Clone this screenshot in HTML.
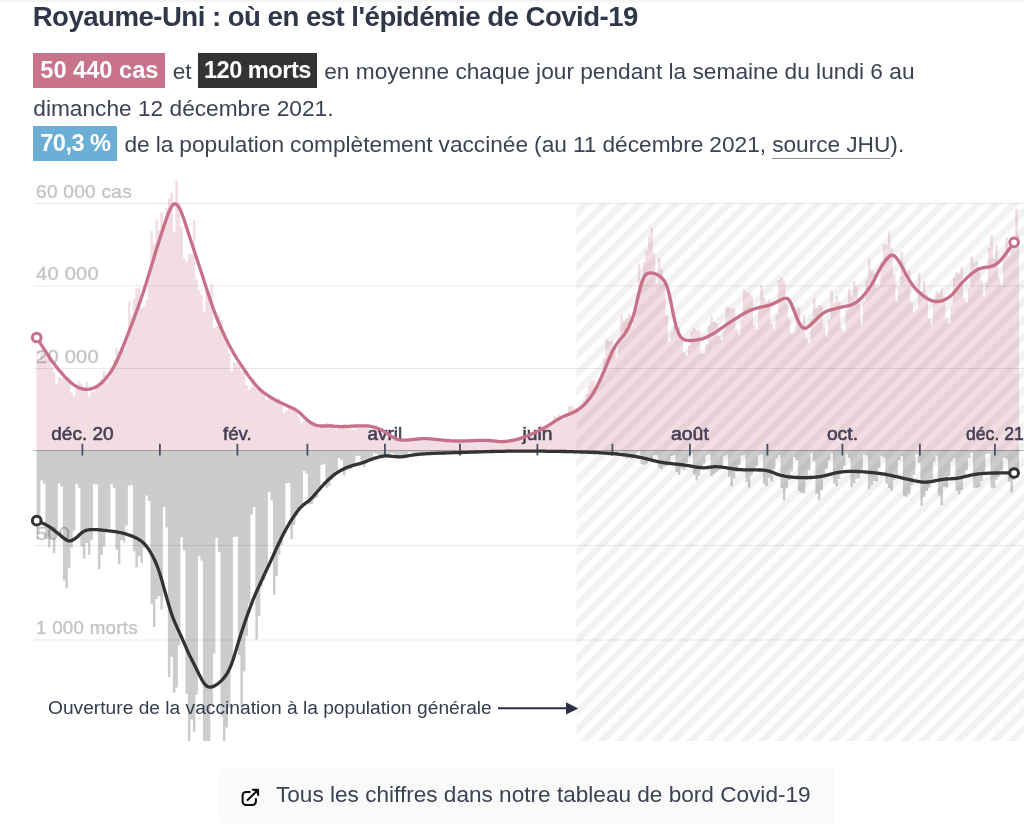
<!DOCTYPE html>
<html lang="fr"><head><meta charset="utf-8"><title>Royaume-Uni : Covid-19</title>
<style>
html,body{margin:0;padding:0;background:#fff;}
body{width:1024px;height:837px;overflow:hidden;position:relative;font-family:"Liberation Sans",sans-serif;color:#3a4254;}
.topshade{position:absolute;left:0;top:0;width:1024px;height:4px;background:linear-gradient(#f2f2f2,#fff);}
h1{position:absolute;left:32.7px;top:0px;margin:0;font-size:27.6px;line-height:34px;font-weight:bold;color:#30374a;white-space:nowrap;letter-spacing:-0.52px;}
.txt{position:absolute;left:33.3px;top:53.1px;width:960px;font-size:22.7px;line-height:36.4px;color:#3a4254;}
.b{display:inline-block;color:#fff;font-weight:bold;font-size:23.6px;line-height:34px;height:34.6px;padding:0 7px;margin-right:1px;vertical-align:top;}
.b.c{background:#c8728b;}
.b.d{background:#333;letter-spacing:-0.5px;padding:0 6px;}
.b.v{background:#6baed6;letter-spacing:-0.55px;}
.u{border-bottom:1px solid #8a8f9a;padding-bottom:1px;}
.l1{word-spacing:0px;}
.l3{word-spacing:-0.3px;}
.chart{position:absolute;left:0;top:170px;}
.chart text{font-family:"Liberation Sans",sans-serif;}
.btn{position:absolute;left:219.3px;top:767.3px;width:615.5px;height:57.5px;background:#fafafa;border-radius:3px;}
.btn span{position:absolute;left:56.7px;top:0;line-height:56px;font-size:22.6px;color:#3a4254;white-space:nowrap;}
.btn svg{position:absolute;left:11px;top:12.7px;}
</style></head><body>
<div class="topshade"></div>
<h1>Royaume-Uni : où en est l'épidémie de Covid-19</h1>
<div class="txt"><span class="b c">50 440 cas</span> et <span class="b d">120 morts</span><span class="l1"> en moyenne chaque jour pendant la semaine du lundi 6 au</span> dimanche 12 décembre 2021.<br><span class="b v">70,3 %</span><span class="l3"> de la population complètement vaccinée (au 11 décembre 2021, <span class="u">source JHU</span>).</span></div>
<svg class="chart" width="1024" height="600" viewBox="0 170 1024 600">
<defs><pattern id="hatch" width="12.6" height="12.6" patternUnits="userSpaceOnUse" patternTransform="translate(576.5 203.5) rotate(-45)"><rect x="0" y="4.0" width="12.6" height="6.4" fill="#000" fill-opacity="0.05"/></pattern><clipPath id="clip"><rect x="36.5" y="170" width="982.6" height="571"/></clipPath></defs>
<path d="M35.40,450.5 L35.40,350.8 L37.90,350.8 L37.90,362.1 L40.40,362.1 L40.40,351.0 L42.90,351.0 L42.90,356.2 L45.40,356.2 L45.40,349.8 L47.90,349.8 L47.90,357.2 L50.40,357.2 L50.40,366.8 L52.90,366.8 L52.90,372.0 L55.40,372.0 L55.40,384.3 L57.90,384.3 L57.90,377.0 L60.40,377.0 L60.40,378.3 L62.90,378.3 L62.90,378.6 L65.40,378.6 L65.40,377.7 L67.90,377.7 L67.90,376.8 L70.40,376.8 L70.40,392.7 L72.90,392.7 L72.90,396.2 L75.40,396.2 L75.40,389.1 L77.90,389.1 L77.90,381.6 L80.40,381.6 L80.40,384.1 L82.90,384.1 L82.90,386.7 L85.40,386.7 L85.40,381.8 L87.90,381.8 L87.90,396.6 L90.40,396.6 L90.40,391.5 L92.90,391.5 L92.90,391.2 L95.40,391.2 L95.40,386.1 L97.90,386.1 L97.90,382.5 L100.40,382.5 L100.40,378.4 L102.90,378.4 L102.90,370.7 L105.40,370.7 L105.40,382.4 L107.90,382.4 L107.90,378.3 L110.40,378.3 L110.40,367.7 L112.90,367.7 L112.90,359.7 L115.40,359.7 L115.40,348.5 L117.90,348.5 L117.90,351.4 L120.40,351.4 L120.40,347.3 L122.90,347.3 L122.90,349.1 L125.40,349.1 L125.40,341.0 L127.90,341.0 L127.90,301.6 L130.40,301.6 L130.40,316.7 L132.90,316.7 L132.90,298.2 L135.40,298.2 L135.40,288.3 L137.90,288.3 L137.90,288.3 L140.40,288.3 L140.40,308.2 L142.90,308.2 L142.90,306.5 L145.40,306.5 L145.40,300.0 L147.90,300.0 L147.90,278.3 L150.40,278.3 L150.40,231.0 L152.90,231.0 L152.90,243.4 L155.40,243.4 L155.40,219.3 L157.90,219.3 L157.90,230.1 L160.40,230.1 L160.40,211.9 L162.90,211.9 L162.90,225.2 L165.40,225.2 L165.40,207.7 L167.90,207.7 L167.90,198.6 L170.40,198.6 L170.40,192.8 L172.90,192.8 L172.90,232.6 L175.40,232.6 L175.40,180.3 L177.90,180.3 L177.90,202.7 L180.40,202.7 L180.40,226.8 L182.90,226.8 L182.90,258.4 L185.40,258.4 L185.40,261.7 L187.90,261.7 L187.90,254.2 L190.40,254.2 L190.40,254.2 L192.90,254.2 L192.90,220.2 L195.40,220.2 L195.40,280.0 L197.90,280.0 L197.90,290.8 L200.40,290.8 L200.40,294.9 L202.90,294.9 L202.90,312.0 L205.40,312.0 L205.40,288.0 L207.90,288.0 L207.90,294.1 L210.40,294.1 L210.40,284.6 L212.90,284.6 L212.90,328.4 L215.40,328.4 L215.40,325.9 L217.90,325.9 L217.90,314.7 L220.40,314.7 L220.40,320.4 L222.90,320.4 L222.90,337.5 L225.40,337.5 L225.40,342.8 L227.90,342.8 L227.90,353.2 L230.40,353.2 L230.40,371.2 L232.90,371.2 L232.90,362.4 L235.40,362.4 L235.40,363.4 L237.90,363.4 L237.90,365.5 L240.40,365.5 L240.40,370.7 L242.90,370.7 L242.90,366.6 L245.40,366.6 L245.40,385.2 L247.90,385.2 L247.90,390.3 L250.40,390.3 L250.40,387.0 L252.90,387.0 L252.90,379.5 L255.40,379.5 L255.40,388.8 L257.90,388.8 L257.90,387.8 L260.40,387.8 L260.40,390.1 L262.90,390.1 L262.90,394.8 L265.40,394.8 L265.40,399.8 L267.90,399.8 L267.90,397.0 L270.40,397.0 L270.40,399.1 L272.90,399.1 L272.90,397.9 L275.40,397.9 L275.40,400.2 L277.90,400.2 L277.90,398.2 L280.40,398.2 L280.40,403.9 L282.90,403.9 L282.90,412.7 L285.40,412.7 L285.40,410.6 L287.90,410.6 L287.90,407.9 L290.40,407.9 L290.40,407.9 L292.90,407.9 L292.90,408.1 L295.40,408.1 L295.40,410.2 L297.90,410.2 L297.90,418.1 L300.40,418.1 L300.40,423.2 L302.90,423.2 L302.90,421.1 L305.40,421.1 L305.40,421.0 L307.90,421.0 L307.90,421.0 L310.40,421.0 L310.40,421.0 L312.90,421.0 L312.90,423.6 L315.40,423.6 L315.40,427.3 L317.90,427.3 L317.90,428.3 L320.40,428.3 L320.40,426.3 L322.90,426.3 L322.90,426.8 L325.40,426.8 L325.40,422.5 L327.90,422.5 L327.90,423.4 L330.40,423.4 L330.40,423.7 L332.90,423.7 L332.90,426.8 L335.40,426.8 L335.40,429.5 L337.90,429.5 L337.90,427.9 L340.40,427.9 L340.40,427.2 L342.90,427.2 L342.90,424.2 L345.40,424.2 L345.40,426.7 L347.90,426.7 L347.90,427.0 L350.40,427.0 L350.40,428.6 L352.90,428.6 L352.90,429.8 L355.40,429.8 L355.40,427.4 L357.90,427.4 L357.90,426.6 L360.40,426.6 L360.40,426.2 L362.90,426.2 L362.90,425.9 L365.40,425.9 L365.40,426.8 L367.90,426.8 L367.90,428.5 L370.40,428.5 L370.40,431.3 L372.90,431.3 L372.90,427.6 L375.40,427.6 L375.40,427.7 L377.90,427.7 L377.90,429.9 L380.40,429.9 L380.40,431.1 L382.90,431.1 L382.90,432.8 L385.40,432.8 L385.40,436.1 L387.90,436.1 L387.90,438.7 L390.40,438.7 L390.40,437.7 L392.90,437.7 L392.90,437.5 L395.40,437.5 L395.40,439.0 L397.90,439.0 L397.90,439.4 L400.40,439.4 L400.40,440.5 L402.90,440.5 L402.90,441.3 L405.40,441.3 L405.40,441.3 L407.90,441.3 L407.90,440.5 L410.40,440.5 L410.40,438.3 L412.90,438.3 L412.90,438.9 L415.40,438.9 L415.40,439.1 L417.90,439.1 L417.90,437.3 L420.40,437.3 L420.40,439.3 L422.90,439.3 L422.90,440.6 L425.40,440.6 L425.40,439.2 L427.90,439.2 L427.90,439.4 L430.40,439.4 L430.40,438.4 L432.90,438.4 L432.90,437.9 L435.40,437.9 L435.40,438.6 L437.90,438.6 L437.90,440.3 L440.40,440.3 L440.40,441.7 L442.90,441.7 L442.90,441.1 L445.40,441.1 L445.40,440.8 L447.90,440.8 L447.90,439.7 L450.40,439.7 L450.40,440.3 L452.90,440.3 L452.90,440.2 L455.40,440.2 L455.40,441.8 L457.90,441.8 L457.90,442.4 L460.40,442.4 L460.40,440.9 L462.90,440.9 L462.90,439.7 L465.40,439.7 L465.40,439.5 L467.90,439.5 L467.90,439.6 L470.40,439.6 L470.40,439.7 L472.90,439.7 L472.90,440.7 L475.40,440.7 L475.40,441.9 L477.90,441.9 L477.90,440.7 L480.40,440.7 L480.40,440.2 L482.90,440.2 L482.90,440.5 L485.40,440.5 L485.40,440.7 L487.90,440.7 L487.90,440.7 L490.40,440.7 L490.40,441.9 L492.90,441.9 L492.90,442.1 L495.40,442.1 L495.40,441.3 L497.90,441.3 L497.90,441.3 L500.40,441.3 L500.40,440.2 L502.90,440.2 L502.90,440.0 L505.40,440.0 L505.40,439.9 L507.90,439.9 L507.90,441.4 L510.40,441.4 L510.40,441.6 L512.90,441.6 L512.90,440.3 L515.40,440.3 L515.40,438.8 L517.90,438.8 L517.90,437.7 L520.40,437.7 L520.40,436.0 L522.90,436.0 L522.90,434.6 L525.40,434.6 L525.40,435.2 L527.90,435.2 L527.90,435.9 L530.40,435.9 L530.40,433.2 L532.90,433.2 L532.90,430.1 L535.40,430.1 L535.40,430.6 L537.90,430.6 L537.90,427.5 L540.40,427.5 L540.40,425.5 L542.90,425.5 L542.90,427.0 L545.40,427.0 L545.40,426.9 L547.90,426.9 L547.90,424.5 L550.40,424.5 L550.40,422.1 L552.90,422.1 L552.90,416.5 L555.40,416.5 L555.40,417.6 L557.90,417.6 L557.90,414.3 L560.40,414.3 L560.40,417.3 L562.90,417.3 L562.90,420.7 L565.40,420.7 L565.40,415.8 L567.90,415.8 L567.90,406.4 L570.40,406.4 L570.40,406.1 L572.90,406.1 L572.90,408.5 L575.40,408.5 L575.40,408.1 L577.90,408.1 L577.90,411.8 L580.40,411.8 L580.40,408.7 L582.90,408.7 L582.90,400.9 L585.40,400.9 L585.40,394.1 L587.90,394.1 L587.90,385.1 L590.40,385.1 L590.40,380.9 L592.90,380.9 L592.90,380.1 L595.40,380.1 L595.40,387.1 L597.90,387.1 L597.90,385.2 L600.40,385.2 L600.40,375.0 L602.90,375.0 L602.90,357.9 L605.40,357.9 L605.40,339.6 L607.90,339.6 L607.90,340.9 L610.40,340.9 L610.40,341.0 L612.90,341.0 L612.90,347.7 L615.40,347.7 L615.40,357.5 L617.90,357.5 L617.90,336.8 L620.40,336.8 L620.40,315.6 L622.90,315.6 L622.90,320.4 L625.40,320.4 L625.40,317.7 L627.90,317.7 L627.90,314.2 L630.40,314.2 L630.40,325.4 L632.90,325.4 L632.90,319.6 L635.40,319.6 L635.40,299.3 L637.90,299.3 L637.90,263.7 L640.40,263.7 L640.40,280.0 L642.90,280.0 L642.90,262.0 L645.40,262.0 L645.40,250.0 L647.90,250.0 L647.90,236.5 L650.40,236.5 L650.40,228.0 L652.90,228.0 L652.90,253.0 L655.40,253.0 L655.40,283.0 L657.90,283.0 L657.90,258.0 L660.40,258.0 L660.40,269.0 L662.90,269.0 L662.90,283.2 L665.40,283.2 L665.40,315.5 L667.90,315.5 L667.90,342.1 L670.40,342.1 L670.40,331.7 L672.90,331.7 L672.90,325.3 L675.40,325.3 L675.40,332.9 L677.90,332.9 L677.90,326.9 L680.40,326.9 L680.40,340.2 L682.90,340.2 L682.90,351.8 L685.40,351.8 L685.40,355.6 L687.90,355.6 L687.90,345.2 L690.40,345.2 L690.40,331.6 L692.90,331.6 L692.90,328.4 L695.40,328.4 L695.40,330.6 L697.90,330.6 L697.90,330.0 L700.40,330.0 L700.40,353.6 L702.90,353.6 L702.90,353.9 L705.40,353.9 L705.40,344.2 L707.90,344.2 L707.90,325.5 L710.40,325.5 L710.40,316.1 L712.90,316.1 L712.90,322.0 L715.40,322.0 L715.40,322.9 L717.90,322.9 L717.90,335.9 L720.40,335.9 L720.40,340.1 L722.90,340.1 L722.90,330.7 L725.40,330.7 L725.40,307.1 L727.90,307.1 L727.90,307.1 L730.40,307.1 L730.40,309.2 L732.90,309.2 L732.90,308.5 L735.40,308.5 L735.40,329.6 L737.90,329.6 L737.90,335.3 L740.40,335.3 L740.40,319.8 L742.90,319.8 L742.90,289.3 L745.40,289.3 L745.40,292.6 L747.90,292.6 L747.90,292.7 L750.40,292.7 L750.40,295.0 L752.90,295.0 L752.90,325.7 L755.40,325.7 L755.40,329.2 L757.90,329.2 L757.90,306.5 L760.40,306.5 L760.40,285.2 L762.90,285.2 L762.90,298.1 L765.40,298.1 L765.40,301.7 L767.90,301.7 L767.90,298.9 L770.40,298.9 L770.40,324.1 L772.90,324.1 L772.90,329.0 L775.40,329.0 L775.40,314.8 L777.90,314.8 L777.90,280.3 L780.40,280.3 L780.40,277.4 L782.90,277.4 L782.90,280.8 L785.40,280.8 L785.40,303.2 L787.90,303.2 L787.90,319.3 L790.40,319.3 L790.40,334.3 L792.90,334.3 L792.90,332.5 L795.40,332.5 L795.40,306.5 L797.90,306.5 L797.90,308.1 L800.40,308.1 L800.40,324.2 L802.90,324.2 L802.90,315.0 L805.40,315.0 L805.40,338.7 L807.90,338.7 L807.90,343.0 L810.40,343.0 L810.40,319.1 L812.90,319.1 L812.90,298.2 L815.40,298.2 L815.40,307.7 L817.90,307.7 L817.90,304.9 L820.40,304.9 L820.40,305.9 L822.90,305.9 L822.90,327.1 L825.40,327.1 L825.40,336.7 L827.90,336.7 L827.90,319.3 L830.40,319.3 L830.40,290.3 L832.90,290.3 L832.90,302.8 L835.40,302.8 L835.40,296.3 L837.90,296.3 L837.90,302.1 L840.40,302.1 L840.40,328.2 L842.90,328.2 L842.90,331.3 L845.40,331.3 L845.40,310.2 L847.90,310.2 L847.90,289.1 L850.40,289.1 L850.40,296.4 L852.90,296.4 L852.90,281.1 L855.40,281.1 L855.40,287.1 L857.90,287.1 L857.90,303.5 L860.40,303.5 L860.40,324.4 L862.90,324.4 L862.90,301.9 L865.40,301.9 L865.40,279.5 L867.90,279.5 L867.90,258.8 L870.40,258.8 L870.40,270.1 L872.90,270.1 L872.90,273.3 L875.40,273.3 L875.40,287.5 L877.90,287.5 L877.90,285.9 L880.40,285.9 L880.40,262.8 L882.90,262.8 L882.90,244.2 L885.40,244.2 L885.40,245.0 L887.90,245.0 L887.90,231.2 L890.40,231.2 L890.40,247.7 L892.90,247.7 L892.90,275.2 L895.40,275.2 L895.40,301.7 L897.90,301.7 L897.90,287.1 L900.40,287.1 L900.40,251.6 L902.90,251.6 L902.90,262.7 L905.40,262.7 L905.40,279.7 L907.90,279.7 L907.90,270.1 L910.40,270.1 L910.40,302.6 L912.90,302.6 L912.90,312.1 L915.40,312.1 L915.40,309.0 L917.90,309.0 L917.90,272.9 L920.40,272.9 L920.40,290.9 L922.90,290.9 L922.90,281.3 L925.40,281.3 L925.40,295.0 L927.90,295.0 L927.90,318.6 L930.40,318.6 L930.40,324.5 L932.90,324.5 L932.90,301.7 L935.40,301.7 L935.40,290.8 L937.90,290.8 L937.90,292.7 L940.40,292.7 L940.40,288.2 L942.90,288.2 L942.90,296.7 L945.40,296.7 L945.40,317.9 L947.90,317.9 L947.90,323.9 L950.40,323.9 L950.40,306.7 L952.90,306.7 L952.90,277.5 L955.40,277.5 L955.40,271.9 L957.90,271.9 L957.90,274.0 L960.40,274.0 L960.40,266.7 L962.90,266.7 L962.90,298.1 L965.40,298.1 L965.40,302.7 L967.90,302.7 L967.90,287.9 L970.40,287.9 L970.40,256.4 L972.90,256.4 L972.90,262.7 L975.40,262.7 L975.40,261.4 L977.90,261.4 L977.90,271.5 L980.40,271.5 L980.40,281.1 L982.90,281.1 L982.90,295.4 L985.40,295.4 L985.40,282.2 L987.90,282.2 L987.90,247.8 L990.40,247.8 L990.40,235.1 L992.90,235.1 L992.90,258.9 L995.40,258.9 L995.40,244.9 L997.90,244.9 L997.90,278.0 L1000.40,278.0 L1000.40,285.5 L1002.90,285.5 L1002.90,253.0 L1005.40,253.0 L1005.40,237.0 L1007.90,237.0 L1007.90,256.0 L1010.40,256.0 L1010.40,246.0 L1012.90,246.0 L1012.90,240.0 L1015.40,240.0 L1015.40,209.0 L1017.90,209.0 L1017.90,234.5 L1020.40,234.5 L1020.40,450.5 Z" fill="#f2dde2" clip-path="url(#clip)"/>
<path d="M35.40,450.5 L35.40,538.9 L37.90,538.9 L37.90,525.7 L40.40,525.7 L40.40,480.6 L42.90,480.6 L42.90,483.5 L45.40,483.5 L45.40,538.8 L47.90,538.8 L47.90,547.3 L50.40,547.3 L50.40,538.7 L52.90,538.7 L52.90,553.2 L55.40,553.2 L55.40,528.9 L57.90,528.9 L57.90,483.3 L60.40,483.3 L60.40,486.4 L62.90,486.4 L62.90,580.4 L65.40,580.4 L65.40,588.3 L67.90,588.3 L67.90,568.1 L70.40,568.1 L70.40,547.6 L72.90,547.6 L72.90,530.7 L75.40,530.7 L75.40,483.8 L77.90,483.8 L77.90,487.8 L80.40,487.8 L80.40,546.5 L82.90,546.5 L82.90,558.7 L85.40,558.7 L85.40,543.0 L87.90,543.0 L87.90,555.0 L90.40,555.0 L90.40,540.1 L92.90,540.1 L92.90,484.2 L95.40,484.2 L95.40,484.4 L97.90,484.4 L97.90,569.3 L100.40,569.3 L100.40,554.8 L102.90,554.8 L102.90,546.6 L105.40,546.6 L105.40,531.5 L107.90,531.5 L107.90,528.6 L110.40,528.6 L110.40,484.3 L112.90,484.3 L112.90,488.0 L115.40,488.0 L115.40,549.6 L117.90,549.6 L117.90,564.5 L120.40,564.5 L120.40,540.0 L122.90,540.0 L122.90,542.2 L125.40,542.2 L125.40,525.5 L127.90,525.5 L127.90,485.5 L130.40,485.5 L130.40,485.3 L132.90,485.3 L132.90,551.2 L135.40,551.2 L135.40,567.3 L137.90,567.3 L137.90,556.1 L140.40,556.1 L140.40,562.7 L142.90,562.7 L142.90,547.9 L145.40,547.9 L145.40,495.6 L147.90,495.6 L147.90,500.8 L150.40,500.8 L150.40,604.1 L152.90,604.1 L152.90,626.9 L155.40,626.9 L155.40,599.0 L157.90,599.0 L157.90,596.2 L160.40,596.2 L160.40,609.4 L162.90,609.4 L162.90,506.9 L165.40,506.9 L165.40,527.4 L167.90,527.4 L167.90,677.0 L170.40,677.0 L170.40,656.9 L172.90,656.9 L172.90,692.7 L175.40,692.7 L175.40,687.5 L177.90,687.5 L177.90,645.2 L180.40,645.2 L180.40,537.2 L182.90,537.2 L182.90,550.3 L185.40,550.3 L185.40,693.7 L187.90,693.7 L187.90,742.2 L190.40,742.2 L190.40,719.4 L192.90,719.4 L192.90,731.9 L195.40,731.9 L195.40,694.7 L197.90,694.7 L197.90,555.8 L200.40,555.8 L200.40,560.4 L202.90,560.4 L202.90,795.9 L205.40,795.9 L205.40,793.7 L207.90,793.7 L207.90,761.9 L210.40,761.9 L210.40,705.0 L212.90,705.0 L212.90,653.5 L215.40,653.5 L215.40,537.8 L217.90,537.8 L217.90,551.9 L220.40,551.9 L220.40,716.4 L222.90,716.4 L222.90,786.9 L225.40,786.9 L225.40,727.5 L227.90,727.5 L227.90,707.2 L230.40,707.2 L230.40,662.0 L232.90,662.0 L232.90,537.0 L235.40,537.0 L235.40,536.5 L237.90,536.5 L237.90,654.9 L240.40,654.9 L240.40,708.3 L242.90,708.3 L242.90,671.5 L245.40,671.5 L245.40,635.9 L247.90,635.9 L247.90,603.6 L250.40,603.6 L250.40,514.3 L252.90,514.3 L252.90,507.0 L255.40,507.0 L255.40,639.5 L257.90,639.5 L257.90,616.0 L260.40,616.0 L260.40,586.5 L262.90,586.5 L262.90,579.7 L265.40,579.7 L265.40,570.6 L267.90,570.6 L267.90,491.9 L270.40,491.9 L270.40,500.5 L272.90,500.5 L272.90,594.8 L275.40,594.8 L275.40,576.2 L277.90,576.2 L277.90,554.7 L280.40,554.7 L280.40,545.0 L282.90,545.0 L282.90,531.1 L285.40,531.1 L285.40,483.2 L287.90,483.2 L287.90,483.0 L290.40,483.0 L290.40,539.3 L292.90,539.3 L292.90,524.9 L295.40,524.9 L295.40,515.8 L297.90,515.8 L297.90,510.9 L300.40,510.9 L300.40,507.6 L302.90,507.6 L302.90,471.0 L305.40,471.0 L305.40,473.7 L307.90,473.7 L307.90,504.2 L310.40,504.2 L310.40,504.1 L312.90,504.1 L312.90,498.9 L315.40,498.9 L315.40,497.7 L317.90,497.7 L317.90,488.1 L320.40,488.1 L320.40,465.0 L322.90,465.0 L322.90,463.7 L325.40,463.7 L325.40,487.7 L327.90,487.7 L327.90,485.9 L330.40,485.9 L330.40,480.1 L332.90,480.1 L332.90,473.7 L335.40,473.7 L335.40,473.4 L337.90,473.4 L337.90,457.9 L340.40,457.9 L340.40,459.9 L342.90,459.9 L342.90,475.6 L345.40,475.6 L345.40,469.5 L347.90,469.5 L347.90,469.2 L350.40,469.2 L350.40,468.9 L352.90,468.9 L352.90,466.1 L355.40,466.1 L355.40,455.9 L357.90,455.9 L357.90,455.8 L360.40,455.8 L360.40,464.5 L362.90,464.5 L362.90,466.9 L365.40,466.9 L365.40,461.5 L367.90,461.5 L367.90,460.7 L370.40,460.7 L370.40,457.4 L372.90,457.4 L372.90,453.4 L375.40,453.4 L375.40,453.7 L377.90,453.7 L377.90,457.3 L380.40,457.3 L380.40,458.7 L382.90,458.7 L382.90,457.3 L385.40,457.3 L385.40,457.7 L387.90,457.7 L387.90,456.6 L390.40,456.6 L390.40,452.8 L392.90,452.8 L392.90,453.7 L395.40,453.7 L395.40,458.8 L397.90,458.8 L397.90,457.9 L400.40,457.9 L400.40,456.9 L402.90,456.9 L402.90,456.9 L405.40,456.9 L405.40,455.5 L407.90,455.5 L407.90,452.3 L410.40,452.3 L410.40,452.3 L412.90,452.3 L412.90,455.5 L415.40,455.5 L415.40,455.4 L417.90,455.4 L417.90,455.3 L420.40,455.3 L420.40,453.9 L422.90,453.9 L422.90,453.9 L425.40,453.9 L425.40,451.9 L427.90,451.9 L427.90,451.7 L430.40,451.7 L430.40,454.6 L432.90,454.6 L432.90,454.5 L435.40,454.5 L435.40,454.1 L437.90,454.1 L437.90,453.3 L440.40,453.3 L440.40,452.9 L442.90,452.9 L442.90,451.5 L445.40,451.5 L445.40,451.7 L447.90,451.7 L447.90,453.5 L450.40,453.5 L450.40,453.4 L452.90,453.4 L452.90,453.1 L455.40,453.1 L455.40,452.7 L457.90,452.7 L457.90,452.2 L460.40,452.2 L460.40,451.2 L462.90,451.2 L462.90,451.4 L465.40,451.4 L465.40,452.6 L467.90,452.6 L467.90,453.0 L470.40,453.0 L470.40,452.3 L472.90,452.3 L472.90,452.1 L475.40,452.1 L475.40,451.9 L477.90,451.9 L477.90,451.0 L480.40,451.0 L480.40,451.0 L482.90,451.0 L482.90,452.2 L485.40,452.2 L485.40,452.1 L487.90,452.1 L487.90,451.9 L490.40,451.9 L490.40,451.6 L492.90,451.6 L492.90,451.5 L495.40,451.5 L495.40,450.9 L497.90,450.9 L497.90,450.9 L500.40,450.9 L500.40,451.6 L502.90,451.6 L502.90,451.4 L505.40,451.4 L505.40,451.4 L507.90,451.4 L507.90,451.3 L510.40,451.3 L510.40,451.2 L512.90,451.2 L512.90,450.8 L515.40,450.8 L515.40,450.8 L517.90,450.8 L517.90,451.2 L520.40,451.2 L520.40,451.5 L522.90,451.5 L522.90,451.2 L525.40,451.2 L525.40,451.3 L527.90,451.3 L527.90,451.1 L530.40,451.1 L530.40,450.8 L532.90,450.8 L532.90,450.8 L535.40,450.8 L535.40,451.6 L537.90,451.6 L537.90,451.4 L540.40,451.4 L540.40,451.5 L542.90,451.5 L542.90,451.4 L545.40,451.4 L545.40,451.3 L547.90,451.3 L547.90,450.8 L550.40,450.8 L550.40,450.9 L552.90,450.9 L552.90,451.6 L555.40,451.6 L555.40,451.7 L557.90,451.7 L557.90,451.9 L560.40,451.9 L560.40,451.7 L562.90,451.7 L562.90,451.5 L565.40,451.5 L565.40,451.0 L567.90,451.0 L567.90,451.1 L570.40,451.1 L570.40,452.2 L572.90,452.2 L572.90,452.2 L575.40,452.2 L575.40,452.2 L577.90,452.2 L577.90,452.1 L580.40,452.1 L580.40,452.1 L582.90,452.1 L582.90,451.1 L585.40,451.1 L585.40,451.3 L587.90,451.3 L587.90,452.9 L590.40,452.9 L590.40,453.4 L592.90,453.4 L592.90,453.5 L595.40,453.5 L595.40,453.4 L597.90,453.4 L597.90,452.9 L600.40,452.9 L600.40,451.1 L602.90,451.1 L602.90,451.1 L605.40,451.1 L605.40,454.4 L607.90,454.4 L607.90,455.4 L610.40,455.4 L610.40,455.7 L612.90,455.7 L612.90,454.3 L615.40,454.3 L615.40,453.7 L617.90,453.7 L617.90,451.8 L620.40,451.8 L620.40,451.2 L622.90,451.2 L622.90,457.3 L625.40,457.3 L625.40,458.9 L627.90,458.9 L627.90,458.0 L630.40,458.0 L630.40,458.4 L632.90,458.4 L632.90,456.4 L635.40,456.4 L635.40,452.6 L637.90,452.6 L637.90,451.3 L640.40,451.3 L640.40,464.1 L642.90,464.1 L642.90,464.9 L645.40,464.9 L645.40,463.6 L647.90,463.6 L647.90,460.6 L650.40,460.6 L650.40,459.1 L652.90,459.1 L652.90,455.0 L655.40,455.0 L655.40,455.2 L657.90,455.2 L657.90,467.7 L660.40,467.7 L660.40,469.2 L662.90,469.2 L662.90,466.5 L665.40,466.5 L665.40,466.1 L667.90,466.1 L667.90,462.3 L670.40,462.3 L670.40,456.0 L672.90,456.0 L672.90,454.8 L675.40,454.8 L675.40,471.9 L677.90,471.9 L677.90,475.1 L680.40,475.1 L680.40,468.3 L682.90,468.3 L682.90,469.9 L685.40,469.9 L685.40,462.6 L687.90,462.6 L687.90,456.7 L690.40,456.7 L690.40,453.3 L692.90,453.3 L692.90,474.6 L695.40,474.6 L695.40,480.5 L697.90,480.5 L697.90,476.0 L700.40,476.0 L700.40,469.0 L702.90,469.0 L702.90,463.3 L705.40,463.3 L705.40,454.9 L707.90,454.9 L707.90,453.8 L710.40,453.8 L710.40,476.4 L712.90,476.4 L712.90,474.3 L715.40,474.3 L715.40,472.2 L717.90,472.2 L717.90,470.3 L720.40,470.3 L720.40,466.9 L722.90,466.9 L722.90,456.2 L725.40,456.2 L725.40,454.5 L727.90,454.5 L727.90,476.7 L730.40,476.7 L730.40,486.1 L732.90,486.1 L732.90,478.4 L735.40,478.4 L735.40,472.2 L737.90,472.2 L737.90,464.7 L740.40,464.7 L740.40,455.6 L742.90,455.6 L742.90,454.6 L745.40,454.6 L745.40,481.9 L747.90,481.9 L747.90,487.4 L750.40,487.4 L750.40,475.6 L752.90,475.6 L752.90,470.8 L755.40,470.8 L755.40,466.3 L757.90,466.3 L757.90,455.2 L760.40,455.2 L760.40,453.9 L762.90,453.9 L762.90,484.0 L765.40,484.0 L765.40,486.0 L767.90,486.0 L767.90,478.3 L770.40,478.3 L770.40,481.3 L772.90,481.3 L772.90,469.5 L775.40,469.5 L775.40,458.3 L777.90,458.3 L777.90,455.0 L780.40,455.0 L780.40,488.0 L782.90,488.0 L782.90,500.5 L785.40,500.5 L785.40,487.5 L787.90,487.5 L787.90,479.7 L790.40,479.7 L790.40,471.6 L792.90,471.6 L792.90,456.9 L795.40,456.9 L795.40,459.9 L797.90,459.9 L797.90,491.3 L800.40,491.3 L800.40,492.9 L802.90,492.9 L802.90,493.5 L805.40,493.5 L805.40,479.7 L807.90,479.7 L807.90,470.5 L810.40,470.5 L810.40,453.6 L812.90,453.6 L812.90,461.3 L815.40,461.3 L815.40,493.6 L817.90,493.6 L817.90,500.2 L820.40,500.2 L820.40,489.9 L822.90,489.9 L822.90,478.5 L825.40,478.5 L825.40,469.0 L827.90,469.0 L827.90,460.0 L830.40,460.0 L830.40,453.1 L832.90,453.1 L832.90,483.6 L835.40,483.6 L835.40,486.1 L837.90,486.1 L837.90,479.0 L840.40,479.0 L840.40,473.5 L842.90,473.5 L842.90,465.8 L845.40,465.8 L845.40,454.2 L847.90,454.2 L847.90,457.7 L850.40,457.7 L850.40,487.1 L852.90,487.1 L852.90,483.2 L855.40,483.2 L855.40,478.8 L857.90,478.8 L857.90,478.3 L860.40,478.3 L860.40,470.3 L862.90,470.3 L862.90,454.8 L865.40,454.8 L865.40,455.6 L867.90,455.6 L867.90,488.8 L870.40,488.8 L870.40,485.3 L872.90,485.3 L872.90,481.0 L875.40,481.0 L875.40,481.2 L877.90,481.2 L877.90,467.7 L880.40,467.7 L880.40,456.3 L882.90,456.3 L882.90,457.4 L885.40,457.4 L885.40,483.7 L887.90,483.7 L887.90,488.1 L890.40,488.1 L890.40,490.8 L892.90,490.8 L892.90,480.0 L895.40,480.0 L895.40,475.0 L897.90,475.0 L897.90,460.2 L900.40,460.2 L900.40,456.3 L902.90,456.3 L902.90,496.3 L905.40,496.3 L905.40,496.8 L907.90,496.8 L907.90,494.6 L910.40,494.6 L910.40,485.0 L912.90,485.0 L912.90,475.0 L915.40,475.0 L915.40,453.9 L917.90,453.9 L917.90,462.8 L920.40,462.8 L920.40,505.6 L922.90,505.6 L922.90,497.0 L925.40,497.0 L925.40,491.1 L927.90,491.1 L927.90,487.3 L930.40,487.3 L930.40,479.7 L932.90,479.7 L932.90,461.7 L935.40,461.7 L935.40,455.6 L937.90,455.6 L937.90,495.4 L940.40,495.4 L940.40,505.1 L942.90,505.1 L942.90,486.8 L945.40,486.8 L945.40,487.4 L947.90,487.4 L947.90,476.1 L950.40,476.1 L950.40,461.0 L952.90,461.0 L952.90,457.9 L955.40,457.9 L955.40,490.7 L957.90,490.7 L957.90,494.3 L960.40,494.3 L960.40,490.1 L962.90,490.1 L962.90,477.6 L965.40,477.6 L965.40,469.9 L967.90,469.9 L967.90,457.9 L970.40,457.9 L970.40,453.0 L972.90,453.0 L972.90,487.5 L975.40,487.5 L975.40,488.1 L977.90,488.1 L977.90,487.1 L980.40,487.1 L980.40,480.9 L982.90,480.9 L982.90,472.5 L985.40,472.5 L985.40,454.1 L987.90,454.1 L987.90,453.4 L990.40,453.4 L990.40,487.4 L992.90,487.4 L992.90,488.1 L995.40,488.1 L995.40,479.6 L997.90,479.6 L997.90,476.8 L1000.40,476.8 L1000.40,470.2 L1002.90,470.2 L1002.90,457.8 L1005.40,457.8 L1005.40,458.8 L1007.90,458.8 L1007.90,481.7 L1010.40,481.7 L1010.40,492.4 L1012.90,492.4 L1012.90,480.2 L1015.40,480.2 L1015.40,478.0 L1017.90,478.0 L1017.90,468.9 L1020.40,468.9 L1020.40,450.5 Z" fill="#cccccc" clip-path="url(#clip)"/>
<rect x="576.5" y="203.5" width="460" height="537.5" fill="url(#hatch)"/>
<line x1="34" x2="1024" y1="203.5" y2="203.5" stroke="#000" stroke-opacity="0.09" stroke-width="1"/>
<line x1="34" x2="1024" y1="286.0" y2="286.0" stroke="#000" stroke-opacity="0.09" stroke-width="1"/>
<line x1="34" x2="1024" y1="368.5" y2="368.5" stroke="#000" stroke-opacity="0.09" stroke-width="1"/>
<line x1="34" x2="1024" y1="545.5" y2="545.5" stroke="#000" stroke-opacity="0.09" stroke-width="1"/>
<line x1="34" x2="1024" y1="640.0" y2="640.0" stroke="#000" stroke-opacity="0.09" stroke-width="1"/>
<line x1="34" x2="1024" y1="450.5" y2="450.5" stroke="#000" stroke-opacity="0.3" stroke-width="1"/>
<g font-size="19" fill="#000" stroke="#000" stroke-width="0.45" opacity="0.235" letter-spacing="0.25" class="ylab">
<text x="36" y="197.5" textLength="96.0" lengthAdjust="spacingAndGlyphs">60 000 cas</text>
<text x="36" y="280.0" textLength="62.9" lengthAdjust="spacingAndGlyphs">40 000</text>
<text x="36" y="362.5" textLength="62.9" lengthAdjust="spacingAndGlyphs">20 000</text>
<text x="36" y="539.5" textLength="34.0" lengthAdjust="spacingAndGlyphs">500</text>
<text x="36" y="634.0" textLength="101.8" lengthAdjust="spacingAndGlyphs">1 000 morts</text>
</g>
<line x1="82.4" x2="82.4" y1="443.8" y2="455.5" stroke="#3a4258" stroke-opacity="0.9" stroke-width="1.8"/>
<line x1="159.9" x2="159.9" y1="443.8" y2="455.5" stroke="#3a4258" stroke-opacity="0.9" stroke-width="1.8"/>
<line x1="237.4" x2="237.4" y1="443.8" y2="455.5" stroke="#3a4258" stroke-opacity="0.9" stroke-width="1.8"/>
<line x1="307.4" x2="307.4" y1="443.8" y2="455.5" stroke="#3a4258" stroke-opacity="0.9" stroke-width="1.8"/>
<line x1="384.9" x2="384.9" y1="443.8" y2="455.5" stroke="#3a4258" stroke-opacity="0.9" stroke-width="1.8"/>
<line x1="459.9" x2="459.9" y1="443.8" y2="455.5" stroke="#3a4258" stroke-opacity="0.9" stroke-width="1.8"/>
<line x1="537.4" x2="537.4" y1="443.8" y2="455.5" stroke="#3a4258" stroke-opacity="0.9" stroke-width="1.8"/>
<line x1="612.4" x2="612.4" y1="443.8" y2="455.5" stroke="#3a4258" stroke-opacity="0.9" stroke-width="1.8"/>
<line x1="689.9" x2="689.9" y1="443.8" y2="455.5" stroke="#3a4258" stroke-opacity="0.9" stroke-width="1.8"/>
<line x1="767.4" x2="767.4" y1="443.8" y2="455.5" stroke="#3a4258" stroke-opacity="0.9" stroke-width="1.8"/>
<line x1="842.4" x2="842.4" y1="443.8" y2="455.5" stroke="#3a4258" stroke-opacity="0.9" stroke-width="1.8"/>
<line x1="919.9" x2="919.9" y1="443.8" y2="455.5" stroke="#3a4258" stroke-opacity="0.9" stroke-width="1.8"/>
<line x1="994.9" x2="994.9" y1="443.8" y2="455.5" stroke="#3a4258" stroke-opacity="0.9" stroke-width="1.8"/>
<g font-size="19" fill="#463f56" stroke="#463f56" stroke-width="0.6" stroke-linejoin="round">
<text x="51.3" y="439.6" textLength="62.3" lengthAdjust="spacingAndGlyphs">déc. 20</text>
<text x="223.1" y="439.6" textLength="28.6" lengthAdjust="spacingAndGlyphs">fév.</text>
<text x="367.6" y="439.6" textLength="34.6" lengthAdjust="spacingAndGlyphs">avril</text>
<text x="522.4" y="439.6" textLength="30.0" lengthAdjust="spacingAndGlyphs">juin</text>
<text x="670.9" y="439.6" textLength="37.9" lengthAdjust="spacingAndGlyphs">août</text>
<text x="826.9" y="439.6" textLength="31.1" lengthAdjust="spacingAndGlyphs">oct.</text>
<text x="966.0" y="439.6" textLength="57.8" lengthAdjust="spacingAndGlyphs">déc. 21</text>
</g>
<path d="M36.7,337.5 L37.7,339.1 L38.7,340.7 L39.7,342.2 L40.7,343.8 L41.7,345.4 L42.7,347.0 L43.7,348.6 L44.7,350.1 L45.7,351.7 L46.7,353.2 L47.7,354.7 L48.7,356.2 L49.7,357.7 L50.7,359.2 L51.7,360.6 L52.7,362.0 L53.7,363.3 L54.7,364.6 L55.7,365.9 L56.7,367.2 L57.7,368.4 L58.7,369.7 L59.7,370.9 L60.7,372.0 L61.7,373.2 L62.7,374.4 L63.7,375.5 L64.7,376.6 L65.7,377.6 L66.7,378.6 L67.7,379.6 L68.7,380.6 L69.7,381.5 L70.7,382.4 L71.7,383.2 L72.7,384.0 L73.7,384.8 L74.7,385.4 L75.7,386.1 L76.7,386.7 L77.7,387.2 L78.7,387.7 L79.7,388.1 L80.7,388.4 L81.7,388.7 L82.7,389.0 L83.7,389.1 L84.7,389.3 L85.7,389.3 L86.7,389.3 L87.7,389.3 L88.7,389.2 L89.7,389.1 L90.7,388.9 L91.7,388.6 L92.7,388.3 L93.7,388.0 L94.7,387.6 L95.7,387.1 L96.7,386.5 L97.7,385.9 L98.7,385.2 L99.7,384.5 L100.7,383.7 L101.7,382.8 L102.7,381.8 L103.7,380.8 L104.7,379.8 L105.7,378.6 L106.7,377.4 L107.7,376.1 L108.7,374.8 L109.7,373.4 L110.7,371.9 L111.7,370.3 L112.7,368.7 L113.7,367.0 L114.7,365.2 L115.7,363.2 L116.7,361.2 L117.7,359.1 L118.7,356.9 L119.7,354.6 L120.7,352.3 L121.7,349.9 L122.7,347.4 L123.7,344.9 L124.7,342.4 L125.7,339.8 L126.7,337.2 L127.7,334.6 L128.7,332.1 L129.7,329.5 L130.7,326.9 L131.7,324.3 L132.7,321.7 L133.7,319.1 L134.7,316.4 L135.7,313.7 L136.7,311.0 L137.7,308.2 L138.7,305.4 L139.7,302.6 L140.7,299.8 L141.7,296.9 L142.7,293.9 L143.7,290.9 L144.7,287.8 L145.7,284.7 L146.7,281.5 L147.7,278.3 L148.7,275.0 L149.7,271.7 L150.7,268.4 L151.7,265.1 L152.7,261.7 L153.7,258.4 L154.7,255.1 L155.7,251.8 L156.7,248.6 L157.7,245.3 L158.7,242.2 L159.7,239.0 L160.7,235.9 L161.7,232.8 L162.7,229.7 L163.7,226.6 L164.7,223.7 L165.7,220.8 L166.7,217.9 L167.7,215.2 L168.7,212.7 L169.7,210.3 L170.7,208.2 L171.7,206.4 L172.7,205.1 L173.7,204.2 L174.7,203.9 L175.7,204.0 L176.7,204.6 L177.7,205.6 L178.7,207.0 L179.7,208.8 L180.7,210.9 L181.7,213.2 L182.7,215.8 L183.7,218.6 L184.7,221.6 L185.7,224.7 L186.7,227.8 L187.7,230.9 L188.7,234.0 L189.7,237.1 L190.7,240.2 L191.7,243.2 L192.7,246.2 L193.7,249.3 L194.7,252.3 L195.7,255.3 L196.7,258.3 L197.7,261.3 L198.7,264.4 L199.7,267.4 L200.7,270.4 L201.7,273.5 L202.7,276.6 L203.7,279.7 L204.7,282.8 L205.7,285.9 L206.7,289.0 L207.7,292.1 L208.7,295.2 L209.7,298.2 L210.7,301.2 L211.7,304.1 L212.7,307.0 L213.7,309.8 L214.7,312.5 L215.7,315.1 L216.7,317.7 L217.7,320.2 L218.7,322.6 L219.7,325.0 L220.7,327.3 L221.7,329.5 L222.7,331.8 L223.7,333.9 L224.7,336.1 L225.7,338.2 L226.7,340.2 L227.7,342.2 L228.7,344.2 L229.7,346.1 L230.7,348.0 L231.7,349.8 L232.7,351.6 L233.7,353.3 L234.7,355.0 L235.7,356.7 L236.7,358.3 L237.7,359.9 L238.7,361.4 L239.7,362.9 L240.7,364.4 L241.7,365.9 L242.7,367.4 L243.7,368.9 L244.7,370.4 L245.7,371.8 L246.7,373.2 L247.7,374.7 L248.7,376.1 L249.7,377.4 L250.7,378.8 L251.7,380.1 L252.7,381.4 L253.7,382.7 L254.7,383.9 L255.7,385.0 L256.7,386.1 L257.7,387.2 L258.7,388.2 L259.7,389.2 L260.7,390.1 L261.7,390.9 L262.7,391.8 L263.7,392.5 L264.7,393.3 L265.7,394.0 L266.7,394.7 L267.7,395.3 L268.7,396.0 L269.7,396.6 L270.7,397.2 L271.7,397.9 L272.7,398.5 L273.7,399.0 L274.7,399.6 L275.7,400.2 L276.7,400.7 L277.7,401.2 L278.7,401.7 L279.7,402.2 L280.7,402.7 L281.7,403.1 L282.7,403.6 L283.7,404.1 L284.7,404.5 L285.7,405.0 L286.7,405.5 L287.7,406.0 L288.7,406.4 L289.7,406.9 L290.7,407.3 L291.7,407.8 L292.7,408.2 L293.7,408.7 L294.7,409.2 L295.7,409.8 L296.7,410.5 L297.7,411.2 L298.7,411.9 L299.7,412.8 L300.7,413.7 L301.7,414.7 L302.7,415.7 L303.7,416.7 L304.7,417.7 L305.7,418.6 L306.7,419.6 L307.7,420.4 L308.7,421.2 L309.7,421.9 L310.7,422.6 L311.7,423.3 L312.7,423.8 L313.7,424.3 L314.7,424.7 L315.7,425.1 L316.7,425.4 L317.7,425.6 L318.7,425.8 L319.7,425.9 L320.7,426.0 L321.7,426.0 L322.7,426.0 L323.7,426.0 L324.7,426.0 L325.7,425.9 L326.7,425.9 L327.7,425.9 L328.7,425.9 L329.7,425.9 L330.7,426.0 L331.7,426.0 L332.7,426.1 L333.7,426.2 L334.7,426.3 L335.7,426.4 L336.7,426.4 L337.7,426.5 L338.7,426.5 L339.7,426.6 L340.7,426.6 L341.7,426.6 L342.7,426.6 L343.7,426.6 L344.7,426.5 L345.7,426.5 L346.7,426.4 L347.7,426.4 L348.7,426.4 L349.7,426.3 L350.7,426.2 L351.7,426.2 L352.7,426.1 L353.7,426.1 L354.7,426.0 L355.7,426.0 L356.7,425.9 L357.7,425.9 L358.7,425.9 L359.7,425.8 L360.7,425.8 L361.7,425.8 L362.7,425.8 L363.7,425.8 L364.7,425.8 L365.7,425.9 L366.7,425.9 L367.7,426.0 L368.7,426.1 L369.7,426.2 L370.7,426.4 L371.7,426.6 L372.7,426.8 L373.7,427.0 L374.7,427.3 L375.7,427.6 L376.7,428.0 L377.7,428.4 L378.7,428.8 L379.7,429.2 L380.7,429.6 L381.7,430.1 L382.7,430.6 L383.7,431.2 L384.7,431.8 L385.7,432.4 L386.7,433.1 L387.7,433.8 L388.7,434.5 L389.7,435.2 L390.7,435.8 L391.7,436.5 L392.7,437.1 L393.7,437.6 L394.7,438.1 L395.7,438.6 L396.7,439.0 L397.7,439.3 L398.7,439.6 L399.7,439.8 L400.7,439.9 L401.7,440.0 L402.7,440.1 L403.7,440.2 L404.7,440.2 L405.7,440.1 L406.7,440.1 L407.7,440.0 L408.7,439.9 L409.7,439.8 L410.7,439.7 L411.7,439.6 L412.7,439.5 L413.7,439.4 L414.7,439.3 L415.7,439.2 L416.7,439.1 L417.7,439.0 L418.7,438.9 L419.7,438.8 L420.7,438.7 L421.7,438.7 L422.7,438.7 L423.7,438.6 L424.7,438.6 L425.7,438.6 L426.7,438.7 L427.7,438.7 L428.7,438.8 L429.7,438.8 L430.7,438.9 L431.7,439.0 L432.7,439.1 L433.7,439.2 L434.7,439.3 L435.7,439.4 L436.7,439.5 L437.7,439.6 L438.7,439.7 L439.7,439.8 L440.7,439.9 L441.7,440.0 L442.7,440.1 L443.7,440.2 L444.7,440.3 L445.7,440.4 L446.7,440.5 L447.7,440.5 L448.7,440.6 L449.7,440.7 L450.7,440.8 L451.7,440.8 L452.7,440.9 L453.7,440.9 L454.7,441.0 L455.7,441.0 L456.7,441.0 L457.7,441.0 L458.7,441.0 L459.7,441.0 L460.7,441.0 L461.7,441.0 L462.7,441.0 L463.7,441.0 L464.7,440.9 L465.7,440.9 L466.7,440.9 L467.7,440.8 L468.7,440.8 L469.7,440.8 L470.7,440.7 L471.7,440.7 L472.7,440.6 L473.7,440.6 L474.7,440.6 L475.7,440.5 L476.7,440.5 L477.7,440.4 L478.7,440.4 L479.7,440.4 L480.7,440.4 L481.7,440.3 L482.7,440.3 L483.7,440.3 L484.7,440.3 L485.7,440.3 L486.7,440.4 L487.7,440.4 L488.7,440.5 L489.7,440.5 L490.7,440.6 L491.7,440.7 L492.7,440.8 L493.7,440.9 L494.7,441.1 L495.7,441.2 L496.7,441.3 L497.7,441.4 L498.7,441.5 L499.7,441.6 L500.7,441.6 L501.7,441.6 L502.7,441.6 L503.7,441.5 L504.7,441.5 L505.7,441.4 L506.7,441.3 L507.7,441.2 L508.7,441.0 L509.7,440.9 L510.7,440.7 L511.7,440.5 L512.7,440.4 L513.7,440.1 L514.7,439.9 L515.7,439.7 L516.7,439.4 L517.7,439.1 L518.7,438.9 L519.7,438.6 L520.7,438.2 L521.7,437.9 L522.7,437.6 L523.7,437.2 L524.7,436.9 L525.7,436.5 L526.7,436.1 L527.7,435.7 L528.7,435.3 L529.7,434.9 L530.7,434.4 L531.7,434.0 L532.7,433.6 L533.7,433.1 L534.7,432.7 L535.7,432.2 L536.7,431.7 L537.7,431.3 L538.7,430.8 L539.7,430.3 L540.7,429.8 L541.7,429.3 L542.7,428.8 L543.7,428.2 L544.7,427.7 L545.7,427.1 L546.7,426.5 L547.7,425.9 L548.7,425.3 L549.7,424.6 L550.7,424.0 L551.7,423.3 L552.7,422.6 L553.7,422.0 L554.7,421.3 L555.7,420.7 L556.7,420.1 L557.7,419.4 L558.7,418.9 L559.7,418.3 L560.7,417.8 L561.7,417.3 L562.7,416.8 L563.7,416.4 L564.7,415.9 L565.7,415.5 L566.7,415.1 L567.7,414.7 L568.7,414.4 L569.7,414.0 L570.7,413.6 L571.7,413.1 L572.7,412.7 L573.7,412.2 L574.7,411.7 L575.7,411.2 L576.7,410.6 L577.7,410.0 L578.7,409.3 L579.7,408.5 L580.7,407.8 L581.7,406.9 L582.7,406.0 L583.7,405.1 L584.7,404.1 L585.7,403.0 L586.7,401.9 L587.7,400.7 L588.7,399.5 L589.7,398.2 L590.7,396.9 L591.7,395.4 L592.7,394.0 L593.7,392.4 L594.7,390.7 L595.7,388.9 L596.7,387.0 L597.7,385.0 L598.7,382.9 L599.7,380.8 L600.7,378.6 L601.7,376.5 L602.7,374.3 L603.7,372.0 L604.7,369.6 L605.7,367.2 L606.7,364.7 L607.7,362.2 L608.7,359.7 L609.7,357.3 L610.7,355.0 L611.7,352.8 L612.7,350.8 L613.7,348.9 L614.7,347.1 L615.7,345.4 L616.7,343.9 L617.7,342.5 L618.7,341.2 L619.7,340.0 L620.7,338.9 L621.7,337.7 L622.7,336.5 L623.7,335.2 L624.7,333.9 L625.7,332.4 L626.7,330.7 L627.7,328.9 L628.7,326.9 L629.7,324.7 L630.7,322.5 L631.7,320.1 L632.7,317.5 L633.7,314.5 L634.7,310.9 L635.7,306.9 L636.7,302.5 L637.7,298.2 L638.7,294.0 L639.7,290.1 L640.7,286.4 L641.7,283.0 L642.7,280.1 L643.7,277.6 L644.7,275.9 L645.7,274.7 L646.7,273.9 L647.7,273.5 L648.7,273.2 L649.7,273.0 L650.7,273.0 L651.7,273.0 L652.7,273.1 L653.7,273.4 L654.7,273.6 L655.7,274.0 L656.7,274.4 L657.7,275.0 L658.7,275.6 L659.7,276.2 L660.7,277.0 L661.7,277.8 L662.7,278.8 L663.7,280.0 L664.7,281.5 L665.7,283.4 L666.7,285.7 L667.7,288.6 L668.7,292.2 L669.7,296.4 L670.7,301.2 L671.7,306.3 L672.7,311.4 L673.7,316.2 L674.7,320.7 L675.7,324.7 L676.7,328.2 L677.7,331.2 L678.7,333.5 L679.7,335.4 L680.7,336.9 L681.7,337.9 L682.7,338.8 L683.7,339.4 L684.7,339.8 L685.7,340.1 L686.7,340.3 L687.7,340.4 L688.7,340.5 L689.7,340.5 L690.7,340.5 L691.7,340.5 L692.7,340.4 L693.7,340.3 L694.7,340.2 L695.7,340.1 L696.7,340.0 L697.7,339.8 L698.7,339.6 L699.7,339.4 L700.7,339.2 L701.7,338.9 L702.7,338.6 L703.7,338.3 L704.7,337.9 L705.7,337.5 L706.7,337.0 L707.7,336.6 L708.7,336.1 L709.7,335.6 L710.7,335.1 L711.7,334.6 L712.7,334.0 L713.7,333.4 L714.7,332.8 L715.7,332.2 L716.7,331.5 L717.7,330.8 L718.7,330.1 L719.7,329.4 L720.7,328.7 L721.7,328.0 L722.7,327.3 L723.7,326.6 L724.7,325.9 L725.7,325.2 L726.7,324.5 L727.7,323.9 L728.7,323.2 L729.7,322.5 L730.7,321.8 L731.7,321.2 L732.7,320.5 L733.7,319.9 L734.7,319.2 L735.7,318.6 L736.7,317.9 L737.7,317.3 L738.7,316.7 L739.7,316.0 L740.7,315.4 L741.7,314.8 L742.7,314.2 L743.7,313.6 L744.7,313.1 L745.7,312.5 L746.7,312.0 L747.7,311.5 L748.7,311.1 L749.7,310.7 L750.7,310.3 L751.7,309.9 L752.7,309.5 L753.7,309.2 L754.7,308.8 L755.7,308.5 L756.7,308.2 L757.7,307.9 L758.7,307.6 L759.7,307.3 L760.7,307.1 L761.7,306.8 L762.7,306.6 L763.7,306.5 L764.7,306.3 L765.7,306.1 L766.7,306.0 L767.7,305.7 L768.7,305.5 L769.7,305.1 L770.7,304.8 L771.7,304.3 L772.7,303.9 L773.7,303.4 L774.7,302.9 L775.7,302.4 L776.7,301.9 L777.7,301.4 L778.7,300.9 L779.7,300.4 L780.7,299.9 L781.7,299.5 L782.7,299.0 L783.7,298.7 L784.7,298.4 L785.7,298.3 L786.7,298.3 L787.7,298.8 L788.7,299.6 L789.7,301.0 L790.7,302.8 L791.7,305.0 L792.7,307.3 L793.7,309.8 L794.7,312.3 L795.7,314.9 L796.7,317.4 L797.7,319.8 L798.7,321.9 L799.7,323.8 L800.7,325.4 L801.7,326.7 L802.7,327.7 L803.7,328.2 L804.7,328.5 L805.7,328.3 L806.7,327.9 L807.7,327.2 L808.7,326.4 L809.7,325.6 L810.7,324.7 L811.7,323.7 L812.7,322.8 L813.7,321.8 L814.7,320.8 L815.7,319.8 L816.7,318.8 L817.7,317.8 L818.7,316.9 L819.7,316.0 L820.7,315.1 L821.7,314.3 L822.7,313.6 L823.7,312.9 L824.7,312.3 L825.7,311.7 L826.7,311.3 L827.7,310.9 L828.7,310.5 L829.7,310.2 L830.7,309.9 L831.7,309.6 L832.7,309.4 L833.7,309.2 L834.7,308.9 L835.7,308.7 L836.7,308.4 L837.7,308.1 L838.7,307.8 L839.7,307.6 L840.7,307.3 L841.7,307.1 L842.7,306.9 L843.7,306.7 L844.7,306.5 L845.7,306.3 L846.7,306.1 L847.7,305.8 L848.7,305.6 L849.7,305.3 L850.7,305.0 L851.7,304.6 L852.7,304.2 L853.7,303.8 L854.7,303.3 L855.7,302.7 L856.7,302.0 L857.7,301.2 L858.7,300.4 L859.7,299.5 L860.7,298.6 L861.7,297.5 L862.7,296.5 L863.7,295.3 L864.7,294.1 L865.7,292.9 L866.7,291.6 L867.7,290.2 L868.7,288.8 L869.7,287.4 L870.7,285.9 L871.7,284.3 L872.7,282.6 L873.7,280.8 L874.7,279.0 L875.7,277.0 L876.7,275.0 L877.7,273.0 L878.7,271.1 L879.7,269.3 L880.7,267.6 L881.7,266.0 L882.7,264.4 L883.7,262.9 L884.7,261.5 L885.7,260.2 L886.7,258.9 L887.7,257.8 L888.7,256.8 L889.7,256.0 L890.7,255.5 L891.7,255.2 L892.7,255.2 L893.7,255.6 L894.7,256.2 L895.7,257.2 L896.7,258.3 L897.7,259.6 L898.7,261.1 L899.7,262.6 L900.7,264.3 L901.7,266.1 L902.7,268.0 L903.7,269.9 L904.7,271.8 L905.7,273.8 L906.7,275.6 L907.7,277.5 L908.7,279.2 L909.7,280.8 L910.7,282.3 L911.7,283.8 L912.7,285.2 L913.7,286.5 L914.7,287.7 L915.7,288.9 L916.7,290.0 L917.7,291.0 L918.7,292.0 L919.7,292.9 L920.7,293.7 L921.7,294.5 L922.7,295.3 L923.7,296.1 L924.7,296.8 L925.7,297.4 L926.7,298.1 L927.7,298.7 L928.7,299.2 L929.7,299.7 L930.7,300.2 L931.7,300.6 L932.7,300.9 L933.7,301.2 L934.7,301.4 L935.7,301.5 L936.7,301.5 L937.7,301.5 L938.7,301.4 L939.7,301.3 L940.7,301.1 L941.7,300.9 L942.7,300.5 L943.7,300.2 L944.7,299.7 L945.7,299.3 L946.7,298.7 L947.7,298.1 L948.7,297.4 L949.7,296.7 L950.7,295.8 L951.7,294.9 L952.7,293.9 L953.7,292.8 L954.7,291.6 L955.7,290.4 L956.7,289.2 L957.7,288.0 L958.7,286.7 L959.7,285.5 L960.7,284.3 L961.7,283.2 L962.7,282.1 L963.7,281.1 L964.7,280.1 L965.7,279.1 L966.7,278.1 L967.7,277.2 L968.7,276.3 L969.7,275.4 L970.7,274.5 L971.7,273.6 L972.7,272.8 L973.7,272.1 L974.7,271.3 L975.7,270.7 L976.7,270.1 L977.7,269.5 L978.7,269.0 L979.7,268.6 L980.7,268.3 L981.7,268.0 L982.7,267.8 L983.7,267.6 L984.7,267.5 L985.7,267.3 L986.7,267.2 L987.7,267.1 L988.7,266.9 L989.7,266.8 L990.7,266.5 L991.7,266.2 L992.7,265.9 L993.7,265.4 L994.7,264.9 L995.7,264.4 L996.7,263.7 L997.7,262.9 L998.7,262.1 L999.7,261.1 L1000.7,260.1 L1001.7,258.9 L1002.7,257.8 L1003.7,256.5 L1004.7,255.2 L1005.7,253.9 L1006.7,252.6 L1007.7,251.2 L1008.7,249.8 L1009.7,248.4 L1010.7,247.1 L1011.7,245.6 L1012.7,244.2 L1013.7,242.9" fill="none" stroke="#c7708a" stroke-width="3.3" stroke-linejoin="round" stroke-linecap="round"/>
<path d="M36.7,520.7 L37.7,521.1 L38.7,521.5 L39.7,521.9 L40.7,522.4 L41.7,522.8 L42.7,523.2 L43.7,523.7 L44.7,524.1 L45.7,524.6 L46.7,525.2 L47.7,525.7 L48.7,526.3 L49.7,527.0 L50.7,527.7 L51.7,528.4 L52.7,529.2 L53.7,530.0 L54.7,530.8 L55.7,531.6 L56.7,532.4 L57.7,533.2 L58.7,533.9 L59.7,534.7 L60.7,535.6 L61.7,536.4 L62.7,537.2 L63.7,538.0 L64.7,538.8 L65.7,539.5 L66.7,540.1 L67.7,540.6 L68.7,540.9 L69.7,540.9 L70.7,540.8 L71.7,540.5 L72.7,540.0 L73.7,539.5 L74.7,538.8 L75.7,538.1 L76.7,537.4 L77.7,536.5 L78.7,535.5 L79.7,534.6 L80.7,533.6 L81.7,532.8 L82.7,532.0 L83.7,531.4 L84.7,530.9 L85.7,530.5 L86.7,530.2 L87.7,530.0 L88.7,529.8 L89.7,529.7 L90.7,529.6 L91.7,529.6 L92.7,529.6 L93.7,529.6 L94.7,529.6 L95.7,529.6 L96.7,529.7 L97.7,529.7 L98.7,529.8 L99.7,529.9 L100.7,530.0 L101.7,530.1 L102.7,530.2 L103.7,530.3 L104.7,530.4 L105.7,530.5 L106.7,530.6 L107.7,530.7 L108.7,530.8 L109.7,530.9 L110.7,531.1 L111.7,531.2 L112.7,531.3 L113.7,531.5 L114.7,531.6 L115.7,531.7 L116.7,531.9 L117.7,532.1 L118.7,532.3 L119.7,532.5 L120.7,532.7 L121.7,532.9 L122.7,533.1 L123.7,533.4 L124.7,533.6 L125.7,533.9 L126.7,534.2 L127.7,534.6 L128.7,534.9 L129.7,535.3 L130.7,535.6 L131.7,536.0 L132.7,536.4 L133.7,536.9 L134.7,537.3 L135.7,537.8 L136.7,538.3 L137.7,538.8 L138.7,539.4 L139.7,540.0 L140.7,540.7 L141.7,541.5 L142.7,542.3 L143.7,543.2 L144.7,544.2 L145.7,545.3 L146.7,546.5 L147.7,547.9 L148.7,549.4 L149.7,551.0 L150.7,552.7 L151.7,554.5 L152.7,556.3 L153.7,558.3 L154.7,560.3 L155.7,562.5 L156.7,564.9 L157.7,567.5 L158.7,570.3 L159.7,573.3 L160.7,576.5 L161.7,579.8 L162.7,583.4 L163.7,587.0 L164.7,590.6 L165.7,594.3 L166.7,597.8 L167.7,601.3 L168.7,604.7 L169.7,608.0 L170.7,611.2 L171.7,614.2 L172.7,617.0 L173.7,619.6 L174.7,622.1 L175.7,624.4 L176.7,626.7 L177.7,628.9 L178.7,631.0 L179.7,633.1 L180.7,635.3 L181.7,637.5 L182.7,639.8 L183.7,642.1 L184.7,644.4 L185.7,646.7 L186.7,649.0 L187.7,651.3 L188.7,653.5 L189.7,655.6 L190.7,657.6 L191.7,659.6 L192.7,661.6 L193.7,663.5 L194.7,665.5 L195.7,667.5 L196.7,669.5 L197.7,671.5 L198.7,673.6 L199.7,675.6 L200.7,677.6 L201.7,679.5 L202.7,681.2 L203.7,682.7 L204.7,684.1 L205.7,685.1 L206.7,686.0 L207.7,686.6 L208.7,686.9 L209.7,687.1 L210.7,687.1 L211.7,686.9 L212.7,686.7 L213.7,686.3 L214.7,685.8 L215.7,685.2 L216.7,684.5 L217.7,683.8 L218.7,683.0 L219.7,682.2 L220.7,681.3 L221.7,680.3 L222.7,679.3 L223.7,678.2 L224.7,676.9 L225.7,675.6 L226.7,674.1 L227.7,672.4 L228.7,670.5 L229.7,668.4 L230.7,666.1 L231.7,663.5 L232.7,660.8 L233.7,657.8 L234.7,654.6 L235.7,651.3 L236.7,648.0 L237.7,644.6 L238.7,641.2 L239.7,637.9 L240.7,634.8 L241.7,631.7 L242.7,628.7 L243.7,625.7 L244.7,622.8 L245.7,619.9 L246.7,617.1 L247.7,614.2 L248.7,611.4 L249.7,608.7 L250.7,605.9 L251.7,603.3 L252.7,600.7 L253.7,598.2 L254.7,595.8 L255.7,593.5 L256.7,591.3 L257.7,589.0 L258.7,586.9 L259.7,584.7 L260.7,582.5 L261.7,580.4 L262.7,578.2 L263.7,576.0 L264.7,573.9 L265.7,571.8 L266.7,569.6 L267.7,567.5 L268.7,565.4 L269.7,563.2 L270.7,561.1 L271.7,558.9 L272.7,556.7 L273.7,554.5 L274.7,552.3 L275.7,550.1 L276.7,547.9 L277.7,545.8 L278.7,543.7 L279.7,541.6 L280.7,539.6 L281.7,537.6 L282.7,535.6 L283.7,533.6 L284.7,531.7 L285.7,529.8 L286.7,528.0 L287.7,526.2 L288.7,524.5 L289.7,522.8 L290.7,521.2 L291.7,519.7 L292.7,518.1 L293.7,516.6 L294.7,515.1 L295.7,513.7 L296.7,512.3 L297.7,510.9 L298.7,509.6 L299.7,508.4 L300.7,507.4 L301.7,506.4 L302.7,505.5 L303.7,504.6 L304.7,503.9 L305.7,503.2 L306.7,502.4 L307.7,501.7 L308.7,500.9 L309.7,500.0 L310.7,499.1 L311.7,498.1 L312.7,497.0 L313.7,495.9 L314.7,494.7 L315.7,493.6 L316.7,492.4 L317.7,491.2 L318.7,490.1 L319.7,489.0 L320.7,487.8 L321.7,486.7 L322.7,485.6 L323.7,484.5 L324.7,483.4 L325.7,482.3 L326.7,481.3 L327.7,480.3 L328.7,479.4 L329.7,478.5 L330.7,477.6 L331.7,476.7 L332.7,475.9 L333.7,475.1 L334.7,474.4 L335.7,473.7 L336.7,473.0 L337.7,472.3 L338.7,471.7 L339.7,471.1 L340.7,470.6 L341.7,470.0 L342.7,469.5 L343.7,469.0 L344.7,468.5 L345.7,468.0 L346.7,467.6 L347.7,467.2 L348.7,466.8 L349.7,466.4 L350.7,466.1 L351.7,465.7 L352.7,465.4 L353.7,465.2 L354.7,464.9 L355.7,464.6 L356.7,464.4 L357.7,464.1 L358.7,463.9 L359.7,463.6 L360.7,463.3 L361.7,463.0 L362.7,462.7 L363.7,462.4 L364.7,462.0 L365.7,461.6 L366.7,461.2 L367.7,460.8 L368.7,460.4 L369.7,460.0 L370.7,459.6 L371.7,459.2 L372.7,458.9 L373.7,458.5 L374.7,458.2 L375.7,457.8 L376.7,457.6 L377.7,457.3 L378.7,457.0 L379.7,456.8 L380.7,456.5 L381.7,456.3 L382.7,456.2 L383.7,456.0 L384.7,455.9 L385.7,455.9 L386.7,455.9 L387.7,455.9 L388.7,456.0 L389.7,456.1 L390.7,456.2 L391.7,456.3 L392.7,456.3 L393.7,456.4 L394.7,456.5 L395.7,456.6 L396.7,456.7 L397.7,456.7 L398.7,456.8 L399.7,456.8 L400.7,456.8 L401.7,456.8 L402.7,456.7 L403.7,456.6 L404.7,456.4 L405.7,456.3 L406.7,456.1 L407.7,455.9 L408.7,455.7 L409.7,455.5 L410.7,455.3 L411.7,455.2 L412.7,455.0 L413.7,454.9 L414.7,454.8 L415.7,454.7 L416.7,454.5 L417.7,454.4 L418.7,454.3 L419.7,454.2 L420.7,454.1 L421.7,454.1 L422.7,454.0 L423.7,453.9 L424.7,453.8 L425.7,453.8 L426.7,453.7 L427.7,453.6 L428.7,453.6 L429.7,453.5 L430.7,453.5 L431.7,453.4 L432.7,453.4 L433.7,453.3 L434.7,453.3 L435.7,453.3 L436.7,453.2 L437.7,453.2 L438.7,453.1 L439.7,453.1 L440.7,453.1 L441.7,453.1 L442.7,453.0 L443.7,453.0 L444.7,453.0 L445.7,452.9 L446.7,452.9 L447.7,452.9 L448.7,452.8 L449.7,452.8 L450.7,452.8 L451.7,452.8 L452.7,452.7 L453.7,452.7 L454.7,452.7 L455.7,452.6 L456.7,452.6 L457.7,452.6 L458.7,452.6 L459.7,452.5 L460.7,452.5 L461.7,452.5 L462.7,452.4 L463.7,452.4 L464.7,452.4 L465.7,452.3 L466.7,452.3 L467.7,452.3 L468.7,452.2 L469.7,452.2 L470.7,452.2 L471.7,452.1 L472.7,452.1 L473.7,452.1 L474.7,452.0 L475.7,452.0 L476.7,452.0 L477.7,451.9 L478.7,451.9 L479.7,451.9 L480.7,451.8 L481.7,451.8 L482.7,451.8 L483.7,451.7 L484.7,451.7 L485.7,451.7 L486.7,451.7 L487.7,451.6 L488.7,451.6 L489.7,451.6 L490.7,451.5 L491.7,451.5 L492.7,451.5 L493.7,451.5 L494.7,451.4 L495.7,451.4 L496.7,451.4 L497.7,451.4 L498.7,451.4 L499.7,451.3 L500.7,451.3 L501.7,451.3 L502.7,451.3 L503.7,451.3 L504.7,451.3 L505.7,451.2 L506.7,451.2 L507.7,451.2 L508.7,451.2 L509.7,451.2 L510.7,451.2 L511.7,451.2 L512.7,451.2 L513.7,451.2 L514.7,451.2 L515.7,451.2 L516.7,451.1 L517.7,451.1 L518.7,451.1 L519.7,451.1 L520.7,451.1 L521.7,451.1 L522.7,451.1 L523.7,451.1 L524.7,451.1 L525.7,451.1 L526.7,451.1 L527.7,451.1 L528.7,451.1 L529.7,451.2 L530.7,451.2 L531.7,451.2 L532.7,451.2 L533.7,451.2 L534.7,451.2 L535.7,451.2 L536.7,451.2 L537.7,451.2 L538.7,451.2 L539.7,451.2 L540.7,451.2 L541.7,451.2 L542.7,451.2 L543.7,451.2 L544.7,451.2 L545.7,451.3 L546.7,451.3 L547.7,451.3 L548.7,451.3 L549.7,451.3 L550.7,451.3 L551.7,451.3 L552.7,451.3 L553.7,451.3 L554.7,451.4 L555.7,451.4 L556.7,451.4 L557.7,451.4 L558.7,451.4 L559.7,451.4 L560.7,451.4 L561.7,451.5 L562.7,451.5 L563.7,451.5 L564.7,451.5 L565.7,451.5 L566.7,451.6 L567.7,451.6 L568.7,451.6 L569.7,451.6 L570.7,451.7 L571.7,451.7 L572.7,451.7 L573.7,451.8 L574.7,451.8 L575.7,451.8 L576.7,451.8 L577.7,451.9 L578.7,451.9 L579.7,451.9 L580.7,452.0 L581.7,452.0 L582.7,452.1 L583.7,452.1 L584.7,452.1 L585.7,452.2 L586.7,452.2 L587.7,452.2 L588.7,452.3 L589.7,452.3 L590.7,452.4 L591.7,452.4 L592.7,452.4 L593.7,452.5 L594.7,452.5 L595.7,452.6 L596.7,452.6 L597.7,452.7 L598.7,452.7 L599.7,452.8 L600.7,452.8 L601.7,452.9 L602.7,452.9 L603.7,453.0 L604.7,453.1 L605.7,453.1 L606.7,453.2 L607.7,453.3 L608.7,453.3 L609.7,453.4 L610.7,453.5 L611.7,453.6 L612.7,453.6 L613.7,453.7 L614.7,453.8 L615.7,453.9 L616.7,454.0 L617.7,454.1 L618.7,454.2 L619.7,454.3 L620.7,454.4 L621.7,454.5 L622.7,454.6 L623.7,454.8 L624.7,454.9 L625.7,455.0 L626.7,455.2 L627.7,455.3 L628.7,455.4 L629.7,455.6 L630.7,455.7 L631.7,455.9 L632.7,456.0 L633.7,456.2 L634.7,456.4 L635.7,456.5 L636.7,456.7 L637.7,456.9 L638.7,457.1 L639.7,457.3 L640.7,457.5 L641.7,457.7 L642.7,457.9 L643.7,458.2 L644.7,458.4 L645.7,458.6 L646.7,458.9 L647.7,459.2 L648.7,459.4 L649.7,459.7 L650.7,459.9 L651.7,460.2 L652.7,460.5 L653.7,460.7 L654.7,461.0 L655.7,461.2 L656.7,461.4 L657.7,461.6 L658.7,461.8 L659.7,462.0 L660.7,462.2 L661.7,462.4 L662.7,462.5 L663.7,462.7 L664.7,462.8 L665.7,463.0 L666.7,463.1 L667.7,463.2 L668.7,463.3 L669.7,463.4 L670.7,463.6 L671.7,463.7 L672.7,463.8 L673.7,463.9 L674.7,464.0 L675.7,464.1 L676.7,464.2 L677.7,464.3 L678.7,464.4 L679.7,464.5 L680.7,464.6 L681.7,464.7 L682.7,464.8 L683.7,465.0 L684.7,465.1 L685.7,465.3 L686.7,465.4 L687.7,465.6 L688.7,465.7 L689.7,465.9 L690.7,466.1 L691.7,466.3 L692.7,466.4 L693.7,466.6 L694.7,466.8 L695.7,467.0 L696.7,467.1 L697.7,467.3 L698.7,467.4 L699.7,467.5 L700.7,467.6 L701.7,467.7 L702.7,467.8 L703.7,467.8 L704.7,467.8 L705.7,467.7 L706.7,467.6 L707.7,467.5 L708.7,467.4 L709.7,467.2 L710.7,467.1 L711.7,467.0 L712.7,466.9 L713.7,466.8 L714.7,466.7 L715.7,466.7 L716.7,466.7 L717.7,466.8 L718.7,466.8 L719.7,466.9 L720.7,467.0 L721.7,467.1 L722.7,467.3 L723.7,467.4 L724.7,467.6 L725.7,467.7 L726.7,467.9 L727.7,468.0 L728.7,468.2 L729.7,468.3 L730.7,468.5 L731.7,468.6 L732.7,468.8 L733.7,468.9 L734.7,469.1 L735.7,469.2 L736.7,469.3 L737.7,469.4 L738.7,469.5 L739.7,469.6 L740.7,469.6 L741.7,469.7 L742.7,469.8 L743.7,469.8 L744.7,469.8 L745.7,469.8 L746.7,469.9 L747.7,469.9 L748.7,469.9 L749.7,469.9 L750.7,469.9 L751.7,469.9 L752.7,469.9 L753.7,469.9 L754.7,469.9 L755.7,469.9 L756.7,469.9 L757.7,469.9 L758.7,470.0 L759.7,470.0 L760.7,470.0 L761.7,470.1 L762.7,470.2 L763.7,470.2 L764.7,470.3 L765.7,470.5 L766.7,470.6 L767.7,470.8 L768.7,471.1 L769.7,471.4 L770.7,471.7 L771.7,472.0 L772.7,472.4 L773.7,472.8 L774.7,473.2 L775.7,473.6 L776.7,474.0 L777.7,474.4 L778.7,474.7 L779.7,475.0 L780.7,475.3 L781.7,475.5 L782.7,475.7 L783.7,476.0 L784.7,476.2 L785.7,476.3 L786.7,476.5 L787.7,476.7 L788.7,476.8 L789.7,476.9 L790.7,477.1 L791.7,477.1 L792.7,477.2 L793.7,477.3 L794.7,477.4 L795.7,477.4 L796.7,477.5 L797.7,477.5 L798.7,477.5 L799.7,477.6 L800.7,477.6 L801.7,477.6 L802.7,477.6 L803.7,477.6 L804.7,477.6 L805.7,477.6 L806.7,477.6 L807.7,477.6 L808.7,477.6 L809.7,477.5 L810.7,477.5 L811.7,477.4 L812.7,477.4 L813.7,477.3 L814.7,477.2 L815.7,477.1 L816.7,477.0 L817.7,476.9 L818.7,476.8 L819.7,476.6 L820.7,476.4 L821.7,476.3 L822.7,476.0 L823.7,475.8 L824.7,475.6 L825.7,475.4 L826.7,475.1 L827.7,474.9 L828.7,474.6 L829.7,474.4 L830.7,474.1 L831.7,473.9 L832.7,473.6 L833.7,473.4 L834.7,473.1 L835.7,472.9 L836.7,472.7 L837.7,472.5 L838.7,472.4 L839.7,472.2 L840.7,472.1 L841.7,472.0 L842.7,471.8 L843.7,471.7 L844.7,471.6 L845.7,471.6 L846.7,471.5 L847.7,471.4 L848.7,471.4 L849.7,471.4 L850.7,471.4 L851.7,471.4 L852.7,471.4 L853.7,471.4 L854.7,471.4 L855.7,471.4 L856.7,471.5 L857.7,471.5 L858.7,471.5 L859.7,471.6 L860.7,471.6 L861.7,471.7 L862.7,471.8 L863.7,471.8 L864.7,471.9 L865.7,472.0 L866.7,472.1 L867.7,472.2 L868.7,472.3 L869.7,472.4 L870.7,472.5 L871.7,472.6 L872.7,472.7 L873.7,472.8 L874.7,472.9 L875.7,473.0 L876.7,473.1 L877.7,473.2 L878.7,473.4 L879.7,473.5 L880.7,473.6 L881.7,473.8 L882.7,473.9 L883.7,474.1 L884.7,474.2 L885.7,474.4 L886.7,474.6 L887.7,474.8 L888.7,475.0 L889.7,475.2 L890.7,475.4 L891.7,475.6 L892.7,475.8 L893.7,476.0 L894.7,476.3 L895.7,476.5 L896.7,476.7 L897.7,477.0 L898.7,477.2 L899.7,477.4 L900.7,477.7 L901.7,477.9 L902.7,478.1 L903.7,478.4 L904.7,478.6 L905.7,478.8 L906.7,479.0 L907.7,479.2 L908.7,479.4 L909.7,479.7 L910.7,479.9 L911.7,480.1 L912.7,480.4 L913.7,480.6 L914.7,480.8 L915.7,481.0 L916.7,481.2 L917.7,481.4 L918.7,481.6 L919.7,481.7 L920.7,481.9 L921.7,482.0 L922.7,482.1 L923.7,482.1 L924.7,482.1 L925.7,482.1 L926.7,482.1 L927.7,482.0 L928.7,481.9 L929.7,481.8 L930.7,481.7 L931.7,481.5 L932.7,481.3 L933.7,481.1 L934.7,480.9 L935.7,480.7 L936.7,480.5 L937.7,480.3 L938.7,480.1 L939.7,479.9 L940.7,479.7 L941.7,479.6 L942.7,479.4 L943.7,479.3 L944.7,479.2 L945.7,479.1 L946.7,479.0 L947.7,478.9 L948.7,478.9 L949.7,478.8 L950.7,478.8 L951.7,478.7 L952.7,478.6 L953.7,478.6 L954.7,478.5 L955.7,478.4 L956.7,478.3 L957.7,478.1 L958.7,478.0 L959.7,477.8 L960.7,477.6 L961.7,477.4 L962.7,477.2 L963.7,476.9 L964.7,476.7 L965.7,476.4 L966.7,476.2 L967.7,476.0 L968.7,475.7 L969.7,475.5 L970.7,475.2 L971.7,475.0 L972.7,474.8 L973.7,474.6 L974.7,474.4 L975.7,474.3 L976.7,474.1 L977.7,474.0 L978.7,473.9 L979.7,473.8 L980.7,473.7 L981.7,473.6 L982.7,473.5 L983.7,473.4 L984.7,473.4 L985.7,473.3 L986.7,473.3 L987.7,473.2 L988.7,473.2 L989.7,473.2 L990.7,473.1 L991.7,473.1 L992.7,473.1 L993.7,473.0 L994.7,473.0 L995.7,473.0 L996.7,473.0 L997.7,473.0 L998.7,472.9 L999.7,472.9 L1000.7,472.9 L1001.7,472.9 L1002.7,472.9 L1003.7,472.9 L1004.7,472.9 L1005.7,472.9 L1006.7,472.9 L1007.7,472.9 L1008.7,473.0 L1009.7,473.0 L1010.7,473.0 L1011.7,473.0 L1012.7,473.0 L1013.7,473.0" fill="none" stroke="#333333" stroke-width="3.3" stroke-linejoin="round" stroke-linecap="round"/>
<circle cx="36.7" cy="337.5" r="4.35" fill="#fff" stroke="#c7708a" stroke-width="3"/>
<circle cx="1014.1" cy="242.3" r="4.35" fill="#fff" stroke="#c7708a" stroke-width="3"/>
<circle cx="36.7" cy="520.7" r="4.35" fill="#fff" stroke="#333" stroke-width="3"/>
<circle cx="1014.1" cy="473.0" r="4.35" fill="#fff" stroke="#333" stroke-width="3"/>
<text x="48" y="713.5" font-size="19.2" fill="#343c4e">Ouverture de la vaccination à la population générale</text>
<line x1="498" x2="570" y1="708.3" y2="708.3" stroke="#2a3040" stroke-width="1.9"/>
<path d="M578.3,708.4 L566,702.3 L566,714.5 Z" fill="#2a3040"/>
</svg>
<div class="btn"><svg width="42" height="34" viewBox="230 780 42 34" fill="none" stroke="#0a0a0a" stroke-width="2.05" stroke-linecap="round" stroke-linejoin="round"><path d="M249.8,791.9 H246.1 a3.5,3.5 0 0 0 -3.5,3.5 V801.5 a3.5,3.5 0 0 0 3.5,3.500 H252.4 a3.5,3.5 0 0 0 3.5,-3.5 V798.9"/><path d="M247.6,800.1 L257.6,790.300"/><path d="M252.8,789.800 H258.100 V795"/><path d="M254.400,790.200 H257.700 V793.500 Z" fill="#0a0a0a" stroke-width="1"/></svg><span>Tous les chiffres dans notre tableau de bord Covid-19</span></div>
</body></html>
